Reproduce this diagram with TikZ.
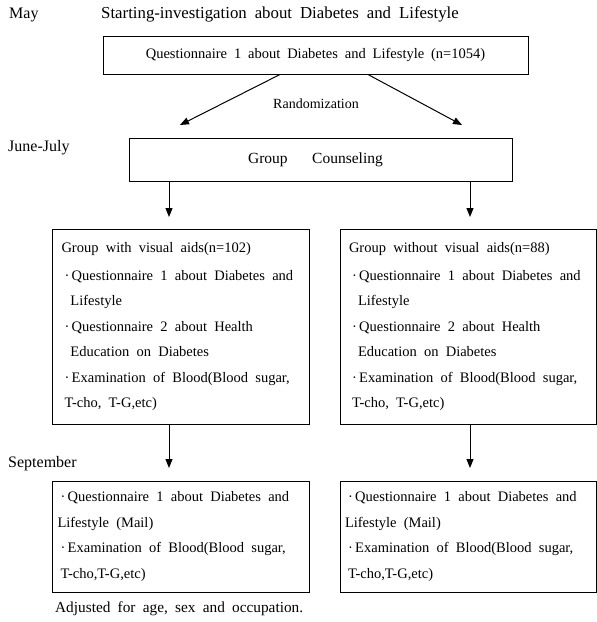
\documentclass[tikz,border=0pt]{standalone}
\usepackage{fontspec}
\setmainfont{Liberation Serif}[WordSpace=1.9]
\usetikzlibrary{arrows.meta}
\begin{document}
\begin{tikzpicture}[x=1pt,y=-1pt,
  box/.style={draw, line width=1pt, inner sep=0pt},
  lbl/.style={font=\fontsize{16}{18}\selectfont, anchor=base west, inner sep=0pt},
  arr/.style={-{Triangle[length=9pt,width=7pt]}, line width=1pt},
  body/.style={box, font=\fontsize{14.5}{25.5}\selectfont, align=left, inner xsep=9pt, text width=238pt,
    execute at begin node={\spaceskip=0.5em plus 0.1em\relax}}]
\useasboundingbox (0,0) rectangle (597,622);
% left labels
\node[lbl] (may) at (9,18) {May};
\node[lbl, font=\fontsize{16.8}{18}\selectfont] (start) at (101,18) {Starting-investigation about Diabetes and Lifestyle};
\node[lbl] (jj) at (8,151) {June-July};
\node[lbl] (sep) at (8,467) {September};
% top box
\node[box, minimum width=425pt, minimum height=38pt, font=\fontsize{14.5}{16}\selectfont] (q1) at (315.5,55) {Questionnaire 1 about Diabetes and Lifestyle\ (n=1054)};
\node[font=\fontsize{14}{16}\selectfont, inner sep=0pt] (rand) at (316,104) {Randomization};
\coordinate (ra) at (180,125);
\coordinate (rb) at (462,125);
\draw[arr] ([xshift=-35.5pt]q1.south) -- (ra);
\draw[arr] ([xshift=52.5pt]q1.south) -- (rb);
% group counseling
\node[box, minimum width=383pt, minimum height=43pt, font=\fontsize{15.5}{17}\selectfont] (gc) at (320.5,159.5) {\hspace{-10pt}Group\quad\hspace{9pt}Counseling};
\coordinate (da) at (169,217);
\coordinate (db) at (470,217);
\draw[arr] ([xshift=-151.5pt]gc.south) -- (da);
\draw[arr] ([xshift=149.5pt]gc.south) -- (db);
% group boxes
\node[body, minimum width=257pt, minimum height=195pt] (gl) at (180.5,326.5) {%
Group with visual aids(n=102)\\[2.5pt]
\hspace{3pt}·\,Questionnaire 1 about Diabetes and\\
\hspace{9pt}Lifestyle\\
\hspace{3pt}·\,Questionnaire 2 about Health\\
\hspace{9pt}Education on Diabetes\\
\hspace{3pt}·\,Examination of Blood(Blood sugar,\\
\hspace{3pt}T-cho, T-G,etc)};
\node[body, minimum width=256pt, minimum height=195pt] (gr) at (468,326.5) {%
Group without visual aids(n=88)\\[2.5pt]
\hspace{3pt}·\,Questionnaire 1 about Diabetes and\\
\hspace{9pt}Lifestyle\\
\hspace{3pt}·\,Questionnaire 2 about Health\\
\hspace{9pt}Education on Diabetes\\
\hspace{3pt}·\,Examination of Blood(Blood sugar,\\
\hspace{3pt}T-cho, T-G,etc)};
\coordinate (ea) at (169,468);
\coordinate (eb) at (470,468);
\draw[arr] ([xshift=-11.5pt]gl.south) -- (ea);
\draw[arr] ([xshift=2pt]gr.south) -- (eb);
% bottom boxes
\node[body, minimum width=257pt, minimum height=111pt, inner xsep=5pt, text width=246pt] (bl) at (180.5,536.5) {%
\hspace{3pt}·\,Questionnaire 1 about Diabetes and\\
Lifestyle (Mail)\\
\hspace{3pt}·\,Examination of Blood(Blood sugar,\\
\hspace{3pt}T-cho,T-G,etc)};
\node[body, minimum width=256pt, minimum height=111pt, inner xsep=5pt, text width=246pt] (br) at (468,536.5) {%
\hspace{3pt}·\,Questionnaire 1 about Diabetes and\\
Lifestyle (Mail)\\
\hspace{3pt}·\,Examination of Blood(Blood sugar,\\
\hspace{3pt}T-cho,T-G,etc)};
\node[lbl, font=\fontsize{15.3}{17}\selectfont] (adj) at (55,612) {Adjusted for age, sex and occupation.};
\end{tikzpicture}
\end{document}
